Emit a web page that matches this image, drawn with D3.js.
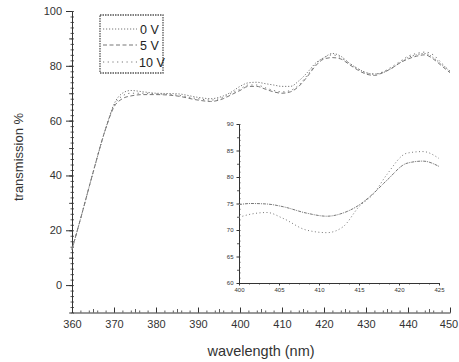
<!DOCTYPE html>
<html>
<head>
<meta charset="utf-8">
<script src="https://cdn.jsdelivr.net/npm/d3@7"></script>
<style>
  body { margin: 0; background: #fff; }
  svg { font-family: "Liberation Sans", Arial, sans-serif; }
</style>
</head>
<body>
<svg id="chart" width="459" height="362"></svg>
<script>
// main spectrum, wavelength (nm) vs transmission %
const wl = [360, 362, 365, 368, 370, 372, 374, 377, 380, 385, 390, 393, 396, 398, 400, 402, 404, 406, 408, 410,
  412, 414, 416, 418, 420, 422, 424, 426, 428, 430, 432, 434, 436, 438, 440, 442, 444, 446, 448, 450];
const t0V = [13, 24, 41, 57, 66, 70, 71, 70.5, 70, 69.8, 68.5, 68, 69, 70.5, 72.5, 73.8, 74, 73.5, 73, 72.5,
  72.5, 74.5, 77.5, 81, 83, 84.5, 83.5, 81, 79, 77.5, 77, 77.5, 79, 81, 83, 84, 84.5, 83, 80.5, 78];
const t5V = [13, 24, 41, 57, 65, 68, 69, 69.5, 69.5, 69, 67.5, 67, 68, 69.5, 71, 72.5, 72.5, 71.5, 70.5, 70,
  70.5, 72.5, 76, 80, 82.5, 83, 82.5, 80.5, 78.5, 77, 76.5, 77.5, 79, 81, 82.5, 83.5, 84, 82.5, 80, 77.5];
const t10V = [13, 24, 41, 57, 65.5, 69, 70, 70, 69.8, 69.3, 68, 67.5, 68.5, 70, 71.5, 73, 73, 72, 71, 70.5,
  71, 73, 76.5, 80.5, 83, 84, 83, 81, 79, 77.5, 77, 77.8, 79.5, 81.5, 83.5, 84.5, 85, 84, 81, 78];

// inset (zoom on 400-425 nm)
const wlInset = [400, 401.5, 403.5, 405.5, 408.4, 411, 413, 415, 416.8, 418.5, 421, 423, 425];
const insetUpper = [74.8, 75, 74.9, 74.4, 73.2, 72.6, 73.2, 74.7, 76.9, 79.4, 82.6, 83, 82];
const insetLower = [72.4, 73, 73.3, 72.2, 70, 69.5, 70.6, 74.4, 76.8, 80.5, 84.5, 84.8, 83.5];

const xTicks = [360, 370, 380, 390, 400, 410, 420, 430, 440, 450];
const yTicks = [0, 20, 40, 60, 80, 100];
const xTicksInset = [400, 405, 410, 415, 420, 425];
const yTicksInset = [60, 65, 70, 75, 80, 85, 90];

const legendItems = ["0 V", "5 V", "10 V"];

const svg = d3.select("#chart");
const axisColor = "#333";
const lineColor = "#777";
const styles = ["1.2,1.8", "4,2.5", "1.2,3.5"];

const x = d3.scaleLinear().domain([360, 450]).range([72, 450]);
const y = d3.scaleLinear().domain([-10, 100]).range([312.5, 11]);

function styleAxis(g, fontSize) {
  g.select(".domain").attr("stroke", axisColor);
  g.selectAll(".tick line").attr("stroke", axisColor);
  g.selectAll(".tick text").attr("fill", "#333").attr("font-size", fontSize).attr("font-family", "Liberation Sans, Arial, sans-serif");
}

// minor ticks
function minor(g, vals, scale, orient, len) {
  const ax = orient === "left" ? d3.axisLeft(scale) : d3.axisBottom(scale);
  g.call(ax.tickValues(vals).tickSize(len).tickFormat(""));
  g.select(".domain").remove();
  g.selectAll(".tick line").attr("stroke", axisColor).attr("stroke-width", 0.8);
}

// main axes
const yMinor = d3.range(-10, 101, 2);
const xMinor = d3.range(360, 451, 2);

svg.append("g").attr("transform", "translate(72,0)").call(g => minor(g, yMinor, y, "left", -2));
svg.append("g").attr("transform", "translate(72,0)").call(g => minor(g, yMinor, y, "left", 1.5));
svg.append("g").attr("transform", "translate(72,0)").call(g => minor(g, d3.range(-10, 101, 10), y, "left", 3));
svg.append("g").attr("transform", "translate(0,312.5)").call(g => minor(g, xMinor, x, "bottom", -2));
svg.append("g").attr("transform", "translate(0,312.5)").call(g => minor(g, d3.range(365, 451, 10), x, "bottom", -3.5));

svg.append("g")
  .attr("transform", "translate(72,0)")
  .call(d3.axisLeft(y).tickValues(yTicks).tickSize(6).tickPadding(4).tickSizeOuter(0))
  .call(g => styleAxis(g, 11));

svg.append("g")
  .attr("transform", "translate(0,312.5)")
  .call(d3.axisBottom(x).tickValues(xTicks).tickSize(-5).tickPadding(8).tickSizeOuter(0))
  .call(g => styleAxis(g, 11))
  .call(g => g.selectAll(".tick text").filter(d => d === 450).attr("dx", -1.5));

svg.append("text")
  .attr("x", 261).attr("y", 356)
  .attr("text-anchor", "middle").attr("font-size", 14.5).attr("fill", "#333")
  .text("wavelength (nm)");

svg.append("text")
  .attr("transform", "translate(23,157) rotate(-90)")
  .attr("text-anchor", "middle").attr("font-size", 13).attr("fill", "#333")
  .text("transmission %");

// main curves
const line = d3.line().x((d, i) => x(wl[i])).y(d => y(d)).curve(d3.curveMonotoneX);
[t0V, t5V, t10V].forEach((s, k) => {
  svg.append("path").datum(s)
    .attr("fill", "none").attr("stroke", lineColor).attr("stroke-width", 1)
    .attr("stroke-dasharray", styles[k])
    .attr("d", line);
});

// legend
const lg = svg.append("g");
lg.append("rect").attr("x", 100).attr("y", 15).attr("width", 63).attr("height", 58)
  .attr("fill", "#fff").attr("stroke", "#555").attr("stroke-width", 1.3).attr("stroke-dasharray", "1.5,1");
const legendY = [29, 45, 62];
legendItems.forEach((name, i) => {
  const ly = legendY[i];
  lg.append("line").attr("x1", 103).attr("x2", 137).attr("y1", ly).attr("y2", ly)
    .attr("stroke", lineColor).attr("stroke-width", 1).attr("stroke-dasharray", styles[i]);
  lg.append("text").attr("x", i === 2 ? 139 : 140).attr("y", ly + 4.5)
    .attr("font-size", 12.5).attr("fill", "#222").text(name);
});

// inset
const xi = d3.scaleLinear().domain([400, 425]).range([239, 439]);
const yi = d3.scaleLinear().domain([60, 90]).range([283, 124]);

svg.append("g").attr("transform", "translate(0,283)").call(g => minor(g, d3.range(400, 425.1, 1.25), xi, "bottom", 1.5));
svg.append("g").attr("transform", "translate(239,0)").call(g => minor(g, d3.range(60, 90.1, 1), yi, "left", -1.5));
svg.append("g").attr("transform", "translate(239,0)").call(g => minor(g, d3.range(62.5, 90, 5), yi, "left", 2));

svg.append("g")
  .attr("transform", "translate(0,283)")
  .call(d3.axisBottom(xi).tickValues(xTicksInset).tickSize(2.5).tickPadding(2).tickSizeOuter(0))
  .call(g => styleAxis(g, 6));

svg.append("g")
  .attr("transform", "translate(239,0)")
  .call(d3.axisLeft(yi).tickValues(yTicksInset).tickSize(2.5).tickPadding(3).tickSizeOuter(0))
  .call(g => styleAxis(g, 6));

const lineI = d3.line().x((d, i) => xi(wlInset[i])).y(d => yi(d)).curve(d3.curveMonotoneX);
svg.append("path").datum(insetUpper)
  .attr("fill", "none").attr("stroke", lineColor).attr("stroke-width", 1)
  .attr("stroke-dasharray", "3,1,1,1").attr("d", lineI);
svg.append("path").datum(insetLower)
  .attr("fill", "none").attr("stroke", lineColor).attr("stroke-width", 1)
  .attr("stroke-dasharray", "1,2.5").attr("d", lineI);
</script>
</body>
</html>
